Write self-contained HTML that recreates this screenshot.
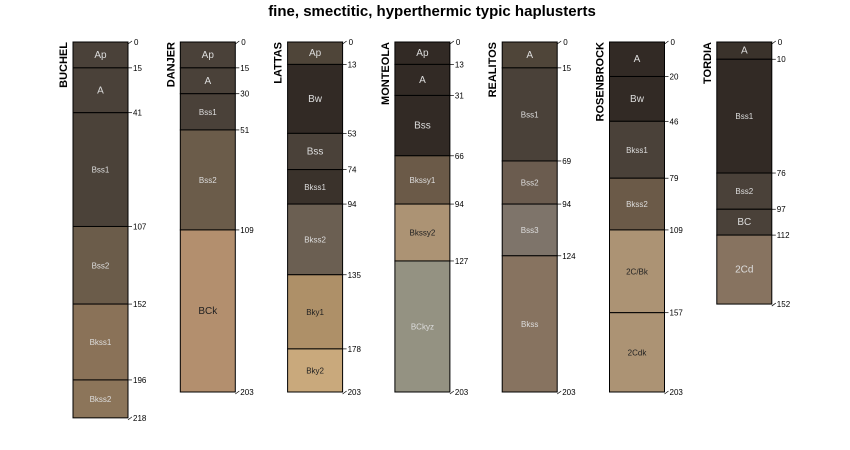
<!DOCTYPE html>
<html><head><meta charset="utf-8"><style>body{margin:0;background:#fff}svg{display:block;font-family:"Liberation Sans",sans-serif}</style></head>
<body>
<svg id="c" width="850" height="450">
<text x="432" y="16" text-anchor="middle" font-size="15" font-weight="bold">fine, smectitic, hyperthermic typic haplusterts</text>
</svg>
<script>
const profiles=["BUCHEL","DANJER","LATTAS","MONTEOLA","REALITOS","ROSENBROCK","TORDIA"];
const horizonNames=[
["Ap","A","Bss1","Bss2","Bkss1","Bkss2"],
["Ap","A","Bss1","Bss2","BCk"],
["Ap","Bw","Bss","Bkss1","Bkss2","Bky1","Bky2"],
["Ap","A","Bss","Bkssy1","Bkssy2","BCkyz"],
["A","Bss1","Bss2","Bss3","Bkss"],
["A","Bw","Bkss1","Bkss2","2C/Bk","2Cdk"],
["A","Bss1","Bss2","BC","2Cd"]];
const horizonBottoms=[
[15,41,107,152,196,218],
[15,30,51,109,203],
[13,53,74,94,135,178,203],
[13,31,66,94,127,203],
[15,69,94,124,203],
[20,46,79,109,157,203],
[10,76,97,112,152]];
const horizonColors=[
["#4a4139","#4a4139","#4b4239","#6b5c4a","#8a7258","#8c755a"],
["#4a4139","#4a4139","#4a4139","#6b5c4a","#b38f6e"],
["#4f4539","#322a25","#4a4139","#3a322b","#6b5f52","#ae9068","#c9a97c"],
["#322a25","#322a25","#322a25","#6b5a48","#ac9374","#949282"],
["#4f4539","#4a4139","#6b5c4f","#7e746a","#877360"],
["#322a25","#322a25","#4a4139","#6b5a48","#ac9374","#ac9374"],
["#3a322b","#322a25","#4a4139","#4a4139","#877360"]];
const NS="http://www.w3.org/2000/svg";
const svg=document.getElementById('c');
const y0=42, pxPerCm=350/203, x0=73, dx=107.3, w=55;
function yScale(d){return y0+d*pxPerCm;}
function mk(t,a,p){const e=document.createElementNS(NS,t);for(const k in a)e.setAttribute(k,a[k]);(p||svg).appendChild(e);return e;}
function isLight(c){const r=parseInt(c.substr(1,2),16),g=parseInt(c.substr(3,2),16),b=parseInt(c.substr(5,2),16);return (r*0.3+g*0.59+b*0.11)>146.5;}
profiles.forEach((p,i)=>{
  const x=x0+i*dx;
  const g=mk('g',{});
  
  
  const nm=mk('text',{x:0,y:0,transform:`translate(${x-6},${y0}) rotate(-90)`,'text-anchor':'end','font-size':11,'font-weight':'bold'},g);
  nm.textContent=p;
  
  
  let top=0;
  const t0=mk('text',{x:x+w+6,y:yScale(0)+3,'font-size':8,fill:'#000'},g);t0.textContent='0';
  mk('line',{x1:x+w,y1:yScale(0)+2,x2:x+w+4,y2:yScale(0)-1,stroke:'#000','stroke-width':0.7},g);
  horizonBottoms[i].forEach((b,j)=>{
    const col=horizonColors[i][j];
    const r=mk('rect',{x:x,y:yScale(top),width:w,height:yScale(b)-yScale(top),fill:col,stroke:'#000','stroke-width':1},g);
    
    
    const nmH=horizonNames[i][j];
    const lt=mk('text',{x:x+w/2,y:(yScale(top)+yScale(b))/2+3,'text-anchor':'middle','font-size':nmH.length<=3?10:8,fill:isLight(col)?'#222':'#ddd'},g);
    lt.textContent=nmH;
    const last=j===horizonBottoms[i].length-1;
    if(last) mk('line',{x1:x+w,y1:yScale(b)+2,x2:x+w+4,y2:yScale(b)-1,stroke:'#000','stroke-width':0.7},g);
    else mk('line',{x1:x+w,y1:yScale(b),x2:x+w+4,y2:yScale(b),stroke:'#000','stroke-width':0.7},g);
    const dl=mk('text',{x:x+w+5,y:yScale(b)+3,'font-size':8,fill:'#000'},g);
    dl.textContent=b;
    
    
    top=b;
  });
});
</script>
</body></html>
